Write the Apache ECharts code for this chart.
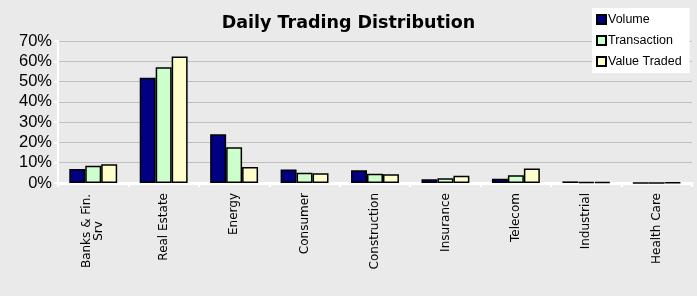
<!DOCTYPE html>
<html lang="en">

<head>
  <meta charset="UTF-8" />
  <title>Daily Trading Distribution</title>
  <script src="https://cdn.jsdelivr.net/npm/echarts@6/dist/echarts.min.js"></script>
  <style>
    body,
    html {
      margin: 0;
      padding: 0;
      width: 100%;
      height: 100%;
      overflow: hidden;
      background: #eaeaea;
    }

    #chart {
      width: 697px;
      height: 296px;
    }
  </style>
</head>

<body>
  <div id="chart"></div>
</body>
<script>
  var categories = ['Banks & Fin.\nSrv', 'Real Estate', 'Energy', 'Consumer', 'Construction',
    'Insurance', 'Telecom', 'Industrial', 'Health Care'];
  var volume = [6.9, 51.9, 24.0, 6.6, 6.3, 1.8, 2.1, 0.8, 0];
  var transaction = [8.5, 57.1, 17.6, 5.1, 4.6, 2.3, 3.8, 0.4, 0.1];
  var valueTraded = [9.3, 62.4, 7.9, 4.8, 4.3, 3.6, 7.2, 0.4, 0.3];
  var seriesNames = ['Volume', 'Transaction', 'Value Traded'];
  var seriesColors = ['#000080', '#ccffcc', '#ffffcc'];

  var myChart = echarts.init(document.getElementById('chart'));

  function makeSeries(name, data, color) {
    return {
      name: name,
      type: 'bar',
      data: data,
      barGap: '0%',
      barCategoryGap: '32%',
      itemStyle: {
        color: color,
        borderColor: '#000000',
        borderWidth: 1.5
      }
    };
  }

  var option = {
    backgroundColor: '#eaeaea',
    animation: false,
    title: {
      text: 'Daily Trading Distribution',
      left: 'center',
      top: 9,
      textStyle: {
        fontFamily: 'DejaVu Sans',
        fontWeight: 'bold',
        fontSize: 17.5,
        color: '#000'
      }
    },
    legend: {
      orient: 'vertical',
      left: 592,
      top: 8,
      backgroundColor: '#ffffff',
      padding: [5, 8, 5, 4],
      icon: 'rect',
      itemWidth: 9,
      itemHeight: 9,
      itemGap: 8,
      textStyle: {
        fontFamily: 'Liberation Sans',
        fontSize: 12.5,
        lineHeight: 12.5,
        color: '#000',
        padding: [0, 0, 0, -3]
      },
      data: seriesNames
    },
    grid: {
      left: 58,
      right: 5,
      top: 41,
      bottom: 113
    },
    xAxis: {
      type: 'category',
      data: categories,
      axisLine: {
        lineStyle: { color: '#ffffff', width: 3 }
      },
      axisTick: {
        show: true,
        length: 4,
        lineStyle: { color: '#ffffff', width: 2 }
      },
      axisLabel: {
        rotate: 90,
        interval: 0,
        margin: 10,
        fontFamily: 'DejaVu Sans',
        fontSize: 12,
        color: '#000',
        formatter: function (v) {
          if (v.indexOf('\n') >= 0) {
            var parts = v.split('\n');
            return '{a|' + parts[0] + '}\n{b|' + parts[1] + '}';
          }
          return v;
        },
        rich: {
          a: { fontFamily: 'DejaVu Sans', fontSize: 12, color: '#000', width: 76, align: 'center' },
          b: { fontFamily: 'DejaVu Sans', fontSize: 12, color: '#000', width: 76, align: 'center' }
        }
      }
    },
    yAxis: {
      type: 'value',
      min: 0,
      max: 70,
      interval: 10,
      axisLine: {
        show: true,
        lineStyle: { color: '#ffffff', width: 2 }
      },
      axisTick: {
        show: true,
        length: 4,
        lineStyle: { color: '#ffffff', width: 2 }
      },
      splitLine: {
        lineStyle: { color: '#c0c0c0', width: 1 }
      },
      axisLabel: {
        margin: 6,
        fontFamily: 'Liberation Sans',
        fontSize: 16.5,
        color: '#000',
        formatter: '{value}%'
      }
    },
    series: [
      makeSeries(seriesNames[0], volume, seriesColors[0]),
      makeSeries(seriesNames[1], transaction, seriesColors[1]),
      makeSeries(seriesNames[2], valueTraded, seriesColors[2])
    ]
  };
  myChart.setOption(option);
</script>

</html>
